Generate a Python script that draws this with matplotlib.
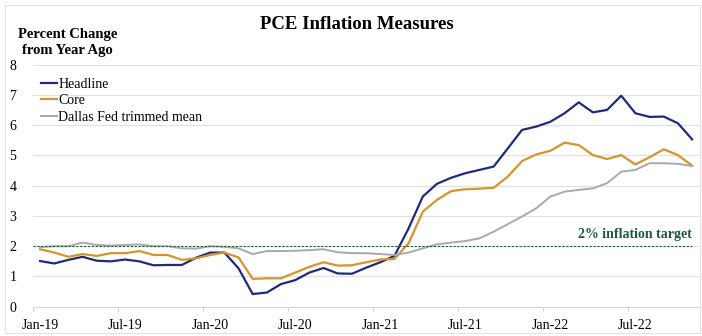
import matplotlib
matplotlib.use("Agg")
import matplotlib.pyplot as plt
from matplotlib.patches import Rectangle

plt.rcParams['font.family'] = ['Liberation Serif', 'DejaVu Serif']

# monthly data, Jan-19 .. Nov-22 (year-over-year % change)
headline = [1.51, 1.43, 1.55, 1.65, 1.52, 1.50, 1.56, 1.50, 1.37, 1.38, 1.38, 1.62,
            1.79, 1.79, 1.27, 0.42, 0.47, 0.75, 0.88, 1.13, 1.28, 1.10, 1.09, 1.29,
            1.47, 1.68, 2.59, 3.64, 4.06, 4.26, 4.41, 4.52, 4.63, 5.23, 5.84, 5.95,
            6.11, 6.39, 6.75, 6.42, 6.50, 6.97, 6.39, 6.27, 6.28, 6.06, 5.53]
core = [1.90, 1.79, 1.65, 1.74, 1.68, 1.77, 1.77, 1.84, 1.71, 1.71, 1.55, 1.60,
        1.71, 1.79, 1.63, 0.92, 0.94, 0.94, 1.13, 1.32, 1.47, 1.36, 1.37, 1.47,
        1.56, 1.58, 2.10, 3.14, 3.53, 3.82, 3.88, 3.90, 3.93, 4.30, 4.81, 5.03,
        5.15, 5.42, 5.34, 5.01, 4.88, 5.01, 4.70, 4.94, 5.20, 5.01, 4.66]
trimmed = [1.97, 2.00, 2.00, 2.12, 2.04, 2.02, 2.04, 2.06, 2.00, 2.00, 1.93, 1.92,
           2.00, 1.98, 1.93, 1.74, 1.84, 1.84, 1.85, 1.87, 1.90, 1.80, 1.77, 1.77,
           1.74, 1.71, 1.79, 1.93, 2.06, 2.12, 2.17, 2.26, 2.48, 2.73, 2.98, 3.25,
           3.64, 3.80, 3.86, 3.91, 4.08, 4.46, 4.52, 4.74, 4.74, 4.72, 4.65]
tick_labels = ['Jan-19', 'Jul-19', 'Jan-20', 'Jul-20', 'Jan-21', 'Jul-21', 'Jan-22', 'Jul-22']
target = 2

x = list(range(len(headline)))

fig = plt.figure(figsize=(7.02, 3.36), dpi=100)
ax = fig.add_axes([0.047, 0.087, 0.949, 0.721])

# faint chart-area border
fig.patches.append(Rectangle((5 / 702, 3 / 336), 695 / 702, 328 / 336, transform=fig.transFigure,
                             fill=False, edgecolor='#e3e3e3', linewidth=0.8))

ax.plot(x, headline, color='#1f2a7c', linewidth=1.6, label='Headline')
ax.plot(x, core, color='#d4952c', linewidth=1.6, label='Core')
ax.plot(x, trimmed, color='#a9a9a9', linewidth=1.4, label='Dallas Fed trimmed mean')

ax.plot([-0.5, len(x) - 1], [target, target], color='#1e5a3c', linestyle=(0, (2, 1.5)),
        linewidth=0.8)
ax.text(len(x) - 1, 2.4, '2% inflation target', color='#1e5a3c', fontsize=10,
        fontweight='bold', ha='right', va='center')

ax.set_xlim(-0.5, len(x) - 0.5)
ax.set_ylim(0, 8)
ax.set_yticks(range(0, 9))
ax.set_xticks(range(0, len(x), 6))
ax.set_xticklabels(tick_labels)
ax.set_xticks([i - 0.5 for i in range(0, len(x), 6)], minor=True)
ax.tick_params(axis='x', which='major', length=0, pad=9, labelsize=10)
ax.tick_params(axis='x', which='minor', length=3, color='#d0d0d0', width=0.8)
ax.tick_params(axis='y', length=0, pad=12, labelsize=10)

ax.grid(axis='y', color='#e0e0e0', linewidth=0.8)
ax.set_axisbelow(True)
for s in ['top', 'right', 'left']:
    ax.spines[s].set_visible(False)
ax.spines['bottom'].set_color('#d6d6d6')
ax.spines['bottom'].set_linewidth(0.8)

ax.legend(loc='upper left', bbox_to_anchor=(0.012, 0.946), frameon=False, fontsize=10,
          handlelength=1.15, handletextpad=0.1, labelspacing=0.25, borderpad=0,
          borderaxespad=0)

fig.text(0.508, 0.926, 'PCE Inflation Measures', fontsize=13.5, fontweight='bold',
         ha='center', va='center')
fig.text(0.096, 0.873, 'Percent Change\nfrom Year Ago', fontsize=10.5, fontweight='bold',
         ha='center', va='center', linespacing=1.3)

fig.savefig('out.png', dpi=100)
